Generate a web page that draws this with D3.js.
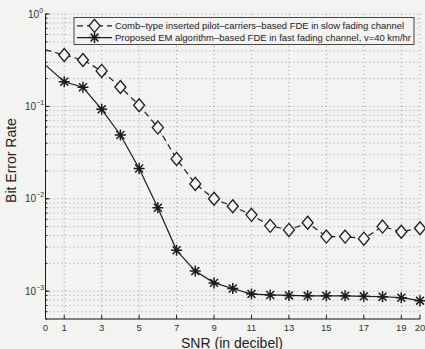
<!DOCTYPE html>
<html>
<head>
<meta charset="utf-8">
<script src="https://d3js.org/d3.v7.min.js"></script>
<style>
  * { margin: 0; padding: 0; }
  body { background: #f3f3f2; width: 425px; height: 349px; overflow: hidden; font-family: 'Liberation Sans', Arial, sans-serif; }
  svg { display: block; }
</style>
</head>
<body>
<div id="chart"></div>
<script>
  const snr = [0,1,2,3,4,5,6,7,8,9,10,11,12,13,14,15,16,17,18,19,20];
  const combBer = [0.41,0.36,0.318,0.242,0.162,0.103,0.059,0.027,0.0145,0.0100,0.0083,0.0067,0.0051,0.0046,0.0055,0.0039,0.0039,0.0037,0.0050,0.0044,0.0048];
  const emBer = [0.28,0.185,0.161,0.093,0.049,0.0213,0.0080,0.00277,0.00165,0.00123,0.00107,0.00093,0.00091,0.00090,0.00089,0.00089,0.00089,0.00088,0.00087,0.00085,0.00079];
  const xTicks = [0,1,3,5,7,9,11,13,15,17,19,20];
  const yTicks = [1,0.1,0.01,0.001];
  const legendLabels = [
    "Comb\u2013type inserted pilot\u2013carriers\u2013based FDE in slow fading channel",
    "Proposed  EM algorithm\u2013based FDE in fast fading channel, v=40 km/hr"
  ];
  const legendWidths = [289, 296];

  const W = 425, H = 349;
  const m = { left: 45.5, right: 5, top: 14, bottom: 30 };
  const ink = "#1c1c1c";

  const svg = d3.select("#chart").append("svg").attr("width", W).attr("height", H);

  const x = d3.scaleLinear().domain([0, 20]).range([m.left, W - m.right]);
  const y = d3.scaleLog().domain([5e-4, 1]).range([H - m.bottom, m.top]);

  // grid
  const minor = [];
  for (let e = -4; e < 0; e++) for (let k = 1; k < 10; k++) {
    const v = k * Math.pow(10, e);
    if (v >= 5e-4 && v <= 1) minor.push(v);
  }
  minor.push(1);
  const grid = svg.append("g").attr("stroke", "#8a8a8a").attr("stroke-width", 0.8).attr("stroke-dasharray", "1,3");
  grid.selectAll(".gy").data(minor).join("line")
    .attr("x1", m.left).attr("x2", W - m.right)
    .attr("y1", d => y(d)).attr("y2", d => y(d));
  grid.selectAll(".gx").data(xTicks.filter(d => d > 0)).join("line")
    .attr("x1", d => x(d)).attr("x2", d => x(d))
    .attr("y1", m.top).attr("y2", H - m.bottom);

  // axes (left + bottom solid)
  const ax = svg.append("g").attr("stroke", ink).attr("stroke-width", 1);
  ax.append("line").attr("x1", m.left).attr("x2", m.left).attr("y1", m.top).attr("y2", H - m.bottom);
  ax.append("line").attr("x1", m.left).attr("x2", W - m.right).attr("y1", H - m.bottom).attr("y2", H - m.bottom);
  // inner ticks
  ax.selectAll(".tx").data(xTicks).join("line")
    .attr("x1", d => x(d)).attr("x2", d => x(d))
    .attr("y1", H - m.bottom).attr("y2", H - m.bottom - 4);
  ax.selectAll(".ty").data(yTicks).join("line")
    .attr("x1", m.left).attr("x2", m.left + 4)
    .attr("y1", d => y(d)).attr("y2", d => y(d));
  ax.selectAll(".tm").data(minor).join("line")
    .attr("x1", m.left).attr("x2", m.left + 2)
    .attr("y1", d => y(d)).attr("y2", d => y(d));

  // tick labels
  svg.append("g").selectAll("text").data(xTicks).join("text")
    .attr("x", d => x(d)).attr("y", H - m.bottom + 12)
    .attr("text-anchor", "middle").attr("font-size", 9.5).attr("fill", "#333")
    .text(d => d);
  const yl = svg.append("g").selectAll("text").data(yTicks).join("text")
    .attr("x", d => Math.log10(d) === 0 ? 28 : 25).attr("y", d => y(d) + 3.5)
    .attr("font-size", 10).attr("fill", "#333");
  yl.append("tspan").text("10");
  yl.append("tspan").attr("dy", -5).attr("font-size", 7)
    .text(d => { const e = Math.round(Math.log10(d)); return e === 0 ? "0" : "\u2212" + (-e); });

  // axis titles
  svg.append("text").attr("x", 232).attr("y", 347.5).attr("text-anchor", "middle")
    .attr("font-size", 14).attr("fill", "#222").text("SNR (in decibel)");
  svg.append("text").attr("transform", "translate(16,160.5) rotate(-90)")
    .attr("text-anchor", "middle").attr("font-size", 14).attr("fill", "#222").text("Bit Error Rate");

  // series
  const line = d3.line().x(d => x(d[0])).y(d => y(d[1]));
  const combPts = snr.map((s, i) => [s, combBer[i]]);
  const emPts = snr.map((s, i) => [s, emBer[i]]);

  svg.append("path").datum(combPts).attr("d", line)
    .attr("fill", "none").attr("stroke", ink).attr("stroke-width", 1.2).attr("stroke-dasharray", "6,4");
  svg.append("path").datum(emPts).attr("d", line)
    .attr("fill", "none").attr("stroke", ink).attr("stroke-width", 1.2);

  function diamond(g, cx, cy) {
    g.append("path").attr("d", `M${cx},${cy - 6.5}L${cx + 5.5},${cy}L${cx},${cy + 6.5}L${cx - 5.5},${cy}Z`)
      .attr("fill", "#f3f3f2").attr("stroke", ink).attr("stroke-width", 1.3);
  }
  function star(g, cx, cy) {
    const r = 5.5, d = r * 0.72;
    g.append("path").attr("d",
      `M${cx - r},${cy}L${cx + r},${cy}M${cx},${cy - r}L${cx},${cy + r}` +
      `M${cx - d},${cy - d}L${cx + d},${cy + d}M${cx - d},${cy + d}L${cx + d},${cy - d}`)
      .attr("stroke", ink).attr("stroke-width", 1.5).attr("fill", "none");
  }
  const mk = svg.append("g");
  combPts.filter(p => p[0] > 0).forEach(p => diamond(mk, x(p[0]), y(p[1])));
  emPts.filter(p => p[0] > 0).forEach(p => star(mk, x(p[0]), y(p[1])));

  // legend
  const lg = svg.append("g");
  lg.append("rect").attr("x", 74).attr("y", 17.5).attr("width", 340).attr("height", 27)
    .attr("fill", "#f3f3f2").attr("stroke", "#333").attr("stroke-width", 0.9);
  const rows = [25.8, 37.6];
  lg.append("line").attr("x1", 77).attr("x2", 112).attr("y1", rows[0]).attr("y2", rows[0])
    .attr("stroke", ink).attr("stroke-width", 1.2).attr("stroke-dasharray", "6,4");
  diamond(lg, 94.5, rows[0]);
  lg.append("line").attr("x1", 77).attr("x2", 112).attr("y1", rows[1]).attr("y2", rows[1])
    .attr("stroke", ink).attr("stroke-width", 1.2);
  star(lg, 94.5, rows[1]);
  lg.selectAll("text.l").data(legendLabels).join("text")
    .attr("x", 115).attr("y", (d, i) => rows[i] + 3.5)
    .attr("font-size", 9.4).attr("fill", "#222")
    .attr("textLength", (d, i) => legendWidths[i]).attr("lengthAdjust", "spacingAndGlyphs")
    .text(d => d);
</script>
</body>
</html>
